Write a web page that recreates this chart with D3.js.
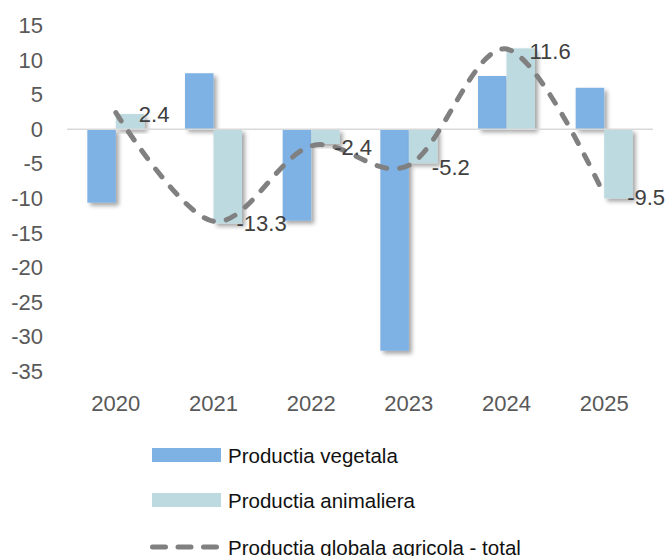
<!DOCTYPE html>
<head>
  <meta charset="utf-8">
  <title>Productia agricola</title>
  <style>
    body { margin: 0; background: #fff; }
    text { font-family: "Liberation Sans", Arial, sans-serif; }
  </style>
</head>
<body>
<script src="https://d3js.org/d3.v7.min.js"></script>
<script>
// chart data
var years = ["2020", "2021", "2022", "2023", "2024", "2025"];
var vegetala = [-10.6, 8.1, -13.2, -32.0, 7.7, 6.0];
var animaliera = [2.2, -13.6, -2.1, -4.9, 11.7, -10.0];
var total = [2.4, -13.3, -2.4, -5.2, 11.6, -9.5];
var yTicks = [15, 10, 5, 0, -5, -10, -15, -20, -25, -30, -35];
var legendLabels = ["Productia vegetala", "Productia animaliera", "Productia globala agricola - total"];

var width = 672, height = 556;
var colVeg = "#7eb1e4", colAni = "#bddae0", colLine = "#808080";

// plain hyphen for negatives, like the original
var loc = d3.formatLocale({decimal: ".", thousands: ",", grouping: [3], currency: ["", ""], minus: "-"});
var fmtInt = loc.format("d"), fmt1 = loc.format(".1f");

var svg = d3.select("body").append("svg")
    .attr("width", width)
    .attr("height", height);

// soft shadow under the bars
var filt = svg.append("defs").append("filter")
    .attr("id", "shadow")
    .attr("x", "-30%").attr("y", "-30%")
    .attr("width", "160%").attr("height", "160%");
filt.append("feDropShadow")
    .attr("dx", 3).attr("dy", 3)
    .attr("stdDeviation", 2)
    .attr("flood-color", "#000")
    .attr("flood-opacity", 0.35);

var x = d3.scaleBand().domain(years).range([67, 653]);
var x1 = d3.scaleBand().domain(["veg", "ani"])
    .range([0, x.bandwidth()])
    .paddingOuter(0.714);
var y = d3.scaleLinear().domain([-35, 15]).range([371.5, 25.5]);

// y axis labels
var yAxis = svg.append("g")
    .attr("transform", "translate(67,0)")
    .call(d3.axisLeft(y).tickValues(yTicks).tickSize(0).tickPadding(24).tickFormat(fmtInt));
yAxis.select(".domain").remove();
yAxis.selectAll("text")
    .style("font-family", "'Liberation Sans', Arial, sans-serif")
    .style("font-size", "22px")
    .attr("fill", "#595959");

// x axis labels
var xAxis = svg.append("g")
    .attr("transform", "translate(0,395)")
    .call(d3.axisBottom(x).tickSize(0).tickPadding(0));
xAxis.select(".domain").remove();
xAxis.selectAll("text")
    .style("font-family", "'Liberation Sans', Arial, sans-serif")
    .style("font-size", "22px")
    .attr("fill", "#595959");

// bars
var rows = years.map(function(d, i) {
  return {year: d, veg: vegetala[i], ani: animaliera[i]};
});

var groups = svg.append("g").selectAll("g")
    .data(rows)
  .enter().append("g")
    .attr("transform", function(d) { return "translate(" + x(d.year) + ",0)"; });

groups.selectAll("rect")
    .data(function(d) { return [{k: "veg", v: d.veg}, {k: "ani", v: d.ani}]; })
  .enter().append("rect")
    .attr("x", function(d) { return x1(d.k); })
    .attr("width", x1.bandwidth())
    .attr("y", function(d) { return y(Math.max(0, d.v)); })
    .attr("height", function(d) { return Math.abs(y(d.v) - y(0)); })
    .attr("fill", function(d) { return d.k == "veg" ? colVeg : colAni; })
    .attr("filter", "url(#shadow)");

// zero line
svg.append("line")
    .attr("x1", 67).attr("x2", 653)
    .attr("y1", y(0)).attr("y2", y(0))
    .attr("stroke", "#d9d9d9")
    .attr("stroke-width", 1.5);

// smoothed total line
var line = d3.line()
    .x(function(d, i) { return x(years[i]) + x.bandwidth() / 2; })
    .y(function(d) { return y(d); })
    .curve(d3.curveCardinal.tension(0));

svg.append("path")
    .datum(total)
    .attr("d", line)
    .attr("fill", "none")
    .attr("stroke", colLine)
    .attr("stroke-width", 5)
    .attr("stroke-linecap", "round")
    .attr("stroke-dasharray", "10,13");

// data labels on the right of each point
svg.append("g").selectAll("text")
    .data(total)
  .enter().append("text")
    .attr("x", function(d, i) { return x(years[i]) + x.bandwidth() / 2 + 23; })
    .attr("y", function(d) { return y(d) + 2; })
    .attr("dominant-baseline", "central")
    .attr("fill", "#404040")
    .style("font-size", "22px")
    .text(function(d) { return fmt1(d); });

// legend
var legend = svg.append("g");
var legY = [455, 500, 547];

legend.append("rect")
    .attr("x", 152).attr("y", legY[0] - 7)
    .attr("width", 69).attr("height", 14)
    .attr("fill", colVeg);
legend.append("rect")
    .attr("x", 152).attr("y", legY[1] - 7)
    .attr("width", 69).attr("height", 14)
    .attr("fill", colAni);
legend.append("line")
    .attr("x1", 152.5).attr("x2", 217.5)
    .attr("y1", legY[2]).attr("y2", legY[2])
    .attr("stroke", colLine)
    .attr("stroke-width", 5)
    .attr("stroke-linecap", "round")
    .attr("stroke-dasharray", "13,12.5");

legend.selectAll("text")
    .data(legendLabels)
  .enter().append("text")
    .attr("x", 228)
    .attr("y", function(d, i) { return legY[i]; })
    .attr("dominant-baseline", "central")
    .attr("fill", "#111")
    .style("font-size", "20.5px")
    .text(function(d) { return d; });
</script>
</body>
